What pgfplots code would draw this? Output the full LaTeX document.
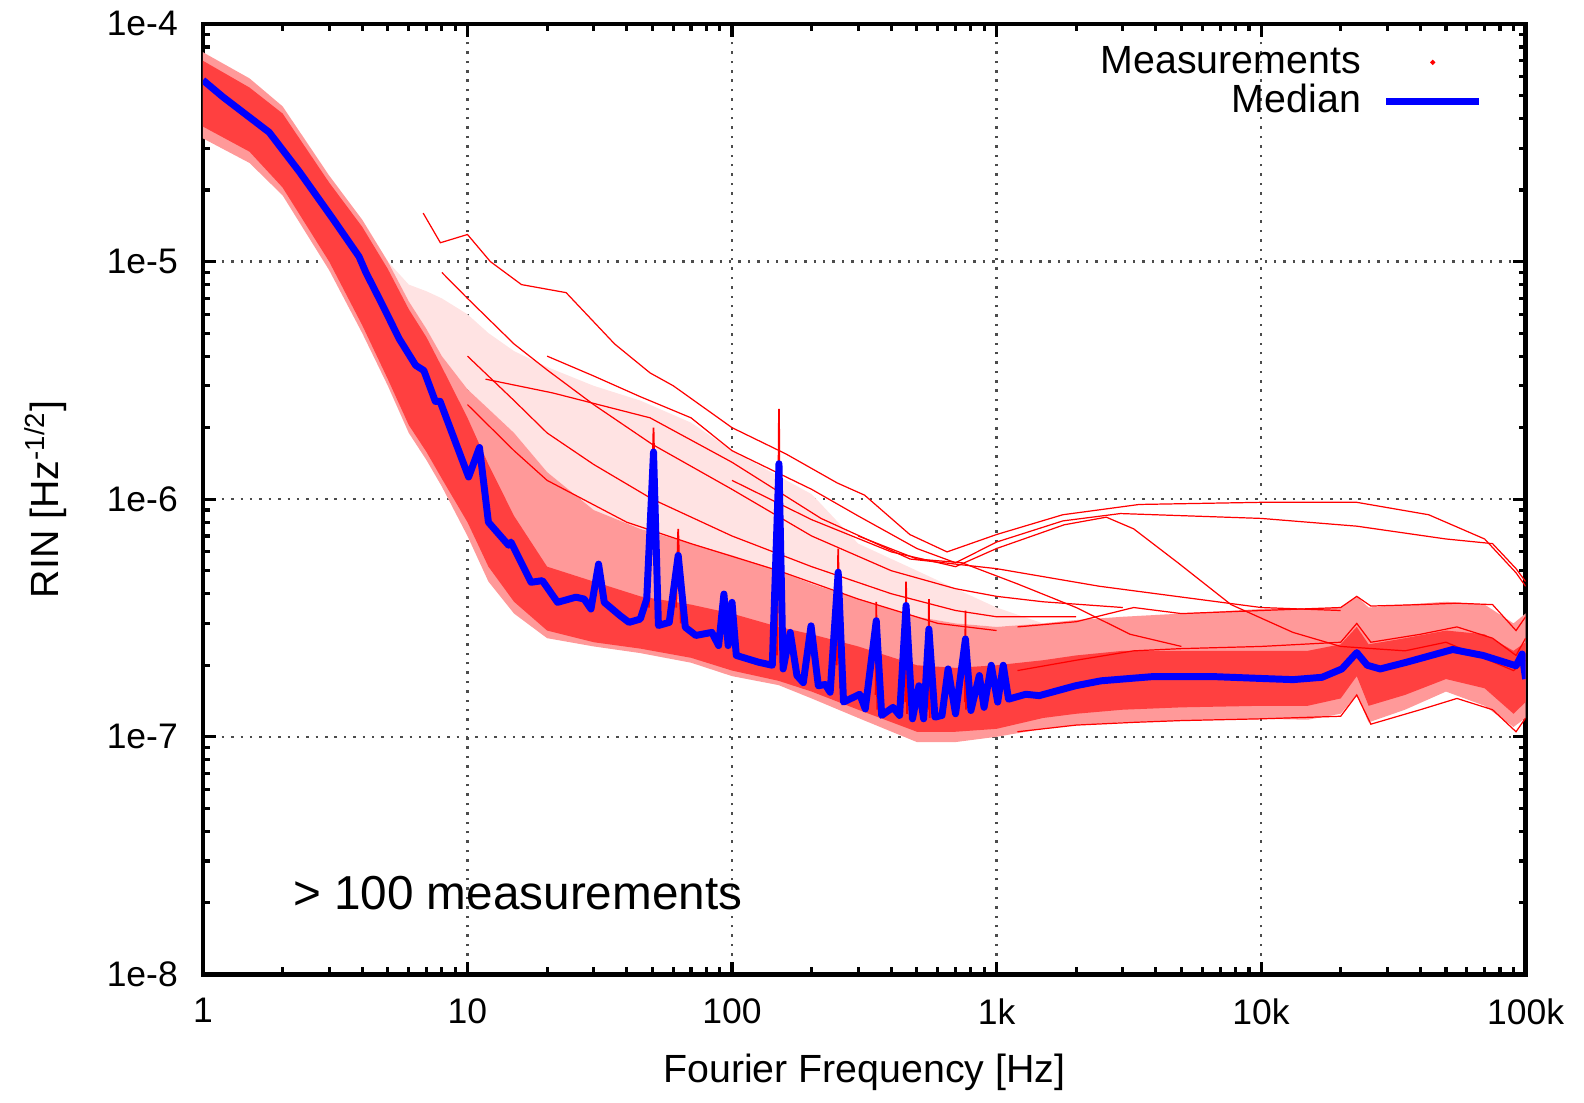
\documentclass[border=0pt]{standalone}
\usepackage{fontspec}
\setmainfont{Liberation Sans}
\usepackage{pgfplots}
\pgfplotsset{compat=1.18}
\usepackage{pgfplotstable}
\usepgfplotslibrary{fillbetween}

% envelopes of the measurement cloud: S sparse top, U outer top, u dense top, l dense bottom, L outer bottom
\pgfplotstableread{
x       S       U       u       l       L
1       7.6e-5  7.6e-5  7.0e-5  3.7e-5  3.3e-5
1.5     5.9e-5  5.9e-5  5.4e-5  2.9e-5  2.6e-5
2       4.5e-5  4.5e-5  4.2e-5  2.05e-5 1.9e-5
3       2.3e-5  2.3e-5  2.15e-5 1.0e-5  9.2e-6
4       1.5e-5  1.5e-5  1.4e-5  5.4e-6  5.0e-6
5       1.0e-5  1.0e-5  9.3e-6  3.2e-6  3.0e-6
6       8.0e-6  6.8e-6  6.3e-6  2.05e-6 1.9e-6
7       7.5e-6  5.2e-6  4.8e-6  1.58e-6 1.46e-6
8       7.0e-6  4.0e-6  3.6e-6  1.22e-6 1.13e-6
10      6.0e-6  2.9e-6  2.2e-6  8.0e-7  7.0e-7
12      5.0e-6  2.4e-6  1.4e-6  5.2e-7  4.5e-7
15      4.2e-6  1.9e-6  8.5e-7  3.7e-7  3.3e-7
20      3.6e-6  1.3e-6  5.2e-7  2.8e-7  2.6e-7
30      3.0e-6  9.0e-7  4.5e-7  2.5e-7  2.4e-7
45      2.6e-6  7.5e-7  3.9e-7  2.35e-7 2.25e-7
70      2.1e-6  6.5e-7  3.6e-7  2.15e-7 2.05e-7
100     1.6e-6  5.8e-7  3.3e-7  1.9e-7  1.8e-7
150     1.25e-6 5.0e-7  2.9e-7  1.72e-7 1.65e-7
200     1.05e-6 4.4e-7  2.7e-7  1.55e-7 1.45e-7
300     6.5e-7  3.8e-7  2.4e-7  1.3e-7  1.2e-7
500     5.0e-7  3.2e-7  2.0e-7  1.05e-7 9.5e-8
700     4.2e-7  3.0e-7  1.95e-7 1.05e-7 9.5e-8
1000    3.5e-7  2.9e-7  2.0e-7  1.08e-7 1.0e-7
1500    3.0e-7  3.0e-7  2.1e-7  1.2e-7  1.08e-7
2000    3.1e-7  3.1e-7  2.2e-7  1.25e-7 1.12e-7
3000    3.2e-7  3.2e-7  2.3e-7  1.3e-7  1.15e-7
5000    3.3e-7  3.3e-7  2.3e-7  1.33e-7 1.17e-7
10000   3.45e-7 3.45e-7 2.3e-7  1.35e-7 1.19e-7
15000   3.45e-7 3.45e-7 2.3e-7  1.35e-7 1.18e-7
20000   3.5e-7  3.5e-7  2.45e-7 1.45e-7 1.25e-7
23000   3.9e-7  3.9e-7  2.9e-7  1.8e-7  1.5e-7
25500   3.5e-7  3.5e-7  2.45e-7 1.35e-7 1.15e-7
35000   3.6e-7  3.6e-7  2.6e-7  1.5e-7  1.3e-7
50000   3.7e-7  3.7e-7  2.8e-7  1.75e-7 1.55e-7
70000   3.6e-7  3.6e-7  2.7e-7  1.6e-7  1.35e-7
90000   3.0e-7  3.0e-7  2.3e-7  1.25e-7 1.1e-7
100000  3.3e-7  3.3e-7  2.5e-7  1.4e-7  1.2e-7
}\envelope

\pgfplotstableread{
x       y
1       5.8e-5
1.19    4.93e-5
1.78    3.5e-5
2.32    2.38e-5
3.09    1.52e-5
3.89    1.05e-5
4.13    9.0e-6
4.76    6.6e-6
5.52    4.73e-6
6.37    3.66e-6
6.84    3.48e-6
7.56    2.58e-6
7.88    2.58e-6
10.1    1.24e-6
11.1    1.65e-6
12.0    8.0e-7
14.3    6.4e-7
14.6    6.6e-7
17.4    4.47e-7
19.2    4.54e-7
21.9    3.68e-7
25.7    3.87e-7
27.6    3.8e-7
29.3    3.45e-7
31.3    5.33e-7
32.9    3.68e-7
37.7    3.24e-7
40.8    3.03e-7
45      3.13e-7
47.6    3.8e-7
50.5    1.58e-6
52.7    2.94e-7
57.9    3.03e-7
62.6    5.8e-7
66.6    2.89e-7
73      2.67e-7
83.9    2.75e-7
89      2.42e-7
93.2    3.99e-7
96.7    2.42e-7
100     3.68e-7
103.8   2.2e-7
126     2.06e-7
142     2.0e-7
150.5   1.41e-6
156     1.93e-7
166     2.75e-7
176     1.81e-7
186     1.69e-7
199     2.93e-7
212     1.64e-7
225     1.66e-7
235     1.54e-7
252     4.93e-7
264     1.40e-7
304     1.51e-7
319     1.31e-7
351     3.08e-7
368     1.23e-7
406     1.33e-7
430     1.23e-7
455     3.57e-7
481     1.19e-7
509     1.64e-7
530     1.19e-7
555     2.84e-7
585     1.21e-7
622     1.23e-7
656     1.93e-7
700     1.25e-7
763     2.58e-7
800     1.29e-7
861     1.81e-7
897     1.33e-7
955     2.0e-7
1010    1.40e-7
1060    2.0e-7
1110    1.44e-7
1290    1.51e-7
1450    1.49e-7
1990    1.64e-7
2480    1.72e-7
3850    1.79e-7
6770    1.79e-7
10000   1.76e-7
13200   1.74e-7
17000   1.78e-7
20200   1.93e-7
23000   2.26e-7
25200   2.0e-7
28200   1.93e-7
35500   2.06e-7
53000   2.33e-7
69000   2.2e-7
92000   1.99e-7
97000   2.23e-7
100000  1.75e-7
}\median

% red tips of the line peaks
\pgfplotstableread{
x       y
48.5    3.5e-7
50.5    2.0e-6
52.5    3.0e-7
nan     nan
61.5    3.5e-7
62.6    7.5e-7
64      3.0e-7
nan     nan
148     2.2e-7
150.5   2.4e-6
153     2.0e-7
nan     nan
249     2.0e-7
252     6.2e-7
256     1.6e-7
nan     nan
349     1.5e-7
351     3.7e-7
354     1.3e-7
nan     nan
452     1.4e-7
455     4.5e-7
459     1.25e-7
nan     nan
552     1.3e-7
555     3.8e-7
559     1.2e-7
nan     nan
760     1.4e-7
763     3.4e-7
767     1.3e-7
}\spikes

% single measurements standing out of the cloud
\pgfplotstableread{
x       y
6.8     1.6e-5
7.9     1.2e-5
10      1.3e-5
12.2    1.0e-5
16      8.0e-6
23.6    7.4e-6
36      4.5e-6
49      3.4e-6
60      3.0e-6
100     2.0e-6
160     1.55e-6
250     1.17e-6
317     1.04e-6
470     7.1e-7
650     6.0e-7
1000    7.1e-7
1780    8.6e-7
3460    9.5e-7
10000   9.7e-7
23000   9.7e-7
43000   8.6e-7
70000   6.8e-7
92000   4.9e-7
100000  4.3e-7
}\outA

\pgfplotstableread{
x       y
20      4.0e-6
30      3.3e-6
45      2.7e-6
70      2.2e-6
100     1.6e-6
200     1.1e-6
300     8.5e-7
500     6.2e-7
700     5.4e-7
1000    6.6e-7
1780    8.1e-7
2940    8.7e-7
10000   8.3e-7
23000   7.7e-7
50000   6.8e-7
75000   6.5e-7
92000   5.1e-7
100000  4.5e-7
}\outB

\pgfplotstableread{
x       y
11.7    3.2e-6
21      2.8e-6
49      2.2e-6
100     1.43e-6
217     8.3e-7
471     5.6e-7
1000    5.1e-7
2450    4.3e-7
10000   3.5e-7
20000   3.4e-7
}\outC

\pgfplotstableread{
x       y
100     1.2e-6
200     8.2e-7
400     6.0e-7
700     5.2e-7
1000    6.2e-7
1800    7.8e-7
2600    8.4e-7
3300    7.5e-7
4850    5.4e-7
7700    3.6e-7
13200   2.75e-7
20000   2.4e-7
35000   2.3e-7
50000   2.5e-7
90000   1.9e-7
100000  2.1e-7
}\outD

\pgfplotstableread{
x       y
300     7.0e-7
500     5.6e-7
740     5.4e-7
1200    4.4e-7
2000    3.5e-7
3200    2.7e-7
5000    2.4e-7
}\outE

\pgfplotstableread{
x       y
8       9.0e-6
10      7.0e-6
15      4.5e-6
20      3.5e-6
30      2.5e-6
50      1.7e-6
100     1.1e-6
200     7.0e-7
400     5.0e-7
700     4.2e-7
1000    3.9e-7
1500    3.7e-7
3000    3.5e-7
}\outG

\pgfplotstableread{
x       y
10      4.0e-6
15      2.6e-6
20      1.9e-6
30      1.4e-6
50      1.0e-6
100     7.0e-7
200     5.2e-7
400     4.0e-7
700     3.4e-7
1000    3.2e-7
2000    3.2e-7
}\outH

\pgfplotstableread{
x       y
10      2.5e-6
15      1.6e-6
20      1.2e-6
40      8.0e-7
70      6.5e-7
150     5.0e-7
300     3.8e-7
600     3.0e-7
1000    2.8e-7
}\outI

% a few lines inside the cloud at high frequency
\pgfplotstableread{
x       top     mid     bot
1200    2.9e-7  1.9e-7  1.05e-7
2000    3.05e-7 2.1e-7  1.12e-7
3300    3.5e-7  2.3e-7  1.15e-7
5000    3.3e-7  2.35e-7 1.17e-7
10000   3.4e-7  2.4e-7  1.19e-7
20000   3.5e-7  2.5e-7  1.22e-7
23000   3.9e-7  3.0e-7  1.5e-7
26000   3.55e-7 2.5e-7  1.13e-7
40000   3.6e-7  2.7e-7  1.3e-7
55000   3.65e-7 2.9e-7  1.45e-7
75000   3.6e-7  2.6e-7  1.3e-7
92000   2.8e-7  2.2e-7  1.05e-7
100000  3.2e-7  2.6e-7  1.2e-7
}\band

\begin{document}
\begin{tikzpicture}
\begin{axis}[
    at={(0,0)}, anchor=south west,
    scale only axis,
    width=13.36cm, height=9.6cm,
    xmode=log, ymode=log,
    xmin=1, xmax=1e5, ymin=1e-8, ymax=1e-4,
    xtick={1,10,100,1000,10000,100000},
    xticklabels={1,10,100,1k,10k,100k},
    ytick={1e-8,1e-7,1e-6,1e-5,1e-4},
    yticklabels={1e-8,1e-7,1e-6,1e-5,1e-4},
    minor xtick={2,3,4,5,6,7,8,9,20,30,40,50,60,70,80,90,200,300,400,500,600,700,800,900,
        2000,3000,4000,5000,6000,7000,8000,9000,20000,30000,40000,50000,60000,70000,80000,90000},
    minor ytick={2e-8,3e-8,4e-8,5e-8,6e-8,7e-8,8e-8,9e-8,2e-7,3e-7,4e-7,5e-7,6e-7,7e-7,8e-7,9e-7,
        2e-6,3e-6,4e-6,5e-6,6e-6,7e-6,8e-6,9e-6,2e-5,3e-5,4e-5,5e-5,6e-5,7e-5,8e-5,9e-5},
    tick align=inside,
    major tick length=0.13cm, minor tick length=0.07cm,
    tick style={black, line width=0.9pt},
    axis line style={line width=1.3pt},
    grid=major,
    major grid style={black!70, line width=0.7pt, dotted},
    tick label style={font=\fontsize{10.2}{12}\selectfont},
    xticklabel style={yshift=-0.12cm},
    yticklabel style={xshift=-0.13cm},
    label style={font=\fontsize{11.3}{13}\selectfont},
    xlabel={Fourier Frequency [Hz]},
    ylabel={RIN [Hz\textsuperscript{-1/2}]},
    xlabel style={at={(axis description cs:0.5,-0.103)}, anchor=center},
    ylabel style={at={(axis description cs:-0.119,0.5)}, anchor=center},
    legend style={draw=none, fill=none, at={(axis description cs:0.976,0.992)},
        anchor=north east, font=\fontsize{11.3}{13}\selectfont, cells={anchor=east},
        column sep=0.15cm, row sep=-2.3pt},
    legend plot pos=right,
    legend image code/.code={\draw[#1] (0cm,0cm) -- (0.94cm,0cm);},
]
\addplot[draw=none, name path=S, forget plot] table[x=x, y=S] {\envelope};
\addplot[draw=none, name path=U, forget plot] table[x=x, y=U] {\envelope};
\addplot[draw=none, name path=u, forget plot] table[x=x, y=u] {\envelope};
\addplot[draw=none, name path=l, forget plot] table[x=x, y=l] {\envelope};
\addplot[draw=none, name path=L, forget plot] table[x=x, y=L] {\envelope};
\addplot[red!11, forget plot] fill between[of=S and U];
\addplot[red!40, forget plot] fill between[of=U and L];
\addplot[red!75, forget plot] fill between[of=u and l];

\addplot[red, line width=0.35pt, forget plot] table[x=x, y=top] {\band};
\addplot[red, line width=0.35pt, forget plot] table[x=x, y=mid] {\band};
\addplot[red, line width=0.35pt, forget plot] table[x=x, y=bot] {\band};
\addplot[red, line width=0.35pt, forget plot] table {\outA};
\addplot[red, line width=0.35pt, forget plot] table {\outB};
\addplot[red, line width=0.35pt, forget plot] table {\outC};
\addplot[red, line width=0.35pt, forget plot] table {\outD};
\addplot[red, line width=0.35pt, forget plot] table {\outE};
\addplot[red, line width=0.35pt, forget plot] table {\outG};
\addplot[red, line width=0.35pt, forget plot] table {\outH};
\addplot[red, line width=0.35pt, forget plot] table {\outI};
\addplot[red, line width=0.5pt, unbounded coords=jump, forget plot] table {\spikes};

\addplot[blue, line width=2pt, line join=round, forget plot] table {\median};

\addlegendimage{legend image code/.code={\fill[red] (0.47cm,0cm) circle (0.5pt);}}
\addlegendentry{Measurements}
\addlegendimage{blue, line width=2pt}
\addlegendentry{Median}

\node[anchor=base west, inner sep=0pt, font=\fontsize{13.7}{16}\selectfont]
    at (axis cs:2.18,1.87e-8) {> 100 measurements};
\end{axis}
\path (-2.05cm,-1.23cm) rectangle (13.95cm,9.82cm);
\end{tikzpicture}
\end{document}
